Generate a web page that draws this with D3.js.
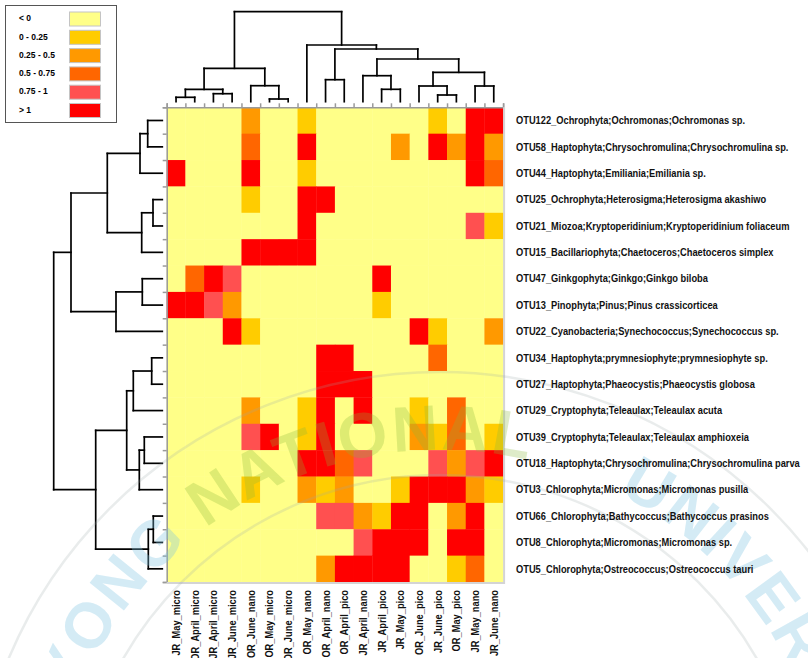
<!DOCTYPE html>
<html>
<head>
<meta charset="utf-8">
<script src="https://cdn.jsdelivr.net/npm/d3@7"></script>
<style>
  body { margin: 0; background: #fff; }
  svg { display: block; }
  text { font-family: "Liberation Sans", Arial, sans-serif; font-weight: bold; }
</style>
</head>
<body>
<div id="app"></div>
<script>
// column order as drawn (after clustering)
const samples = [
  "JR_May_micro", "OR_April_micro", "JR_April_micro", "JR_June_micro", "OR_June_nano",
  "OR_May_micro", "OR_June_micro", "OR_May_nano", "OR_April_nano", "OR_April_pico",
  "JR_April_nano", "JR_April_pico", "JR_May_pico", "OR_June_pico", "JR_June_pico",
  "OR_May_pico", "JR_May_nano", "JR_June_nano"
]

const otus = [
  "OTU122_Ochrophyta;Ochromonas;Ochromonas sp.",
  "OTU58_Haptophyta;Chrysochromulina;Chrysochromulina sp.",
  "OTU44_Haptophyta;Emiliania;Emiliania sp.",
  "OTU25_Ochrophyta;Heterosigma;Heterosigma akashiwo",
  "OTU21_Miozoa;Kryptoperidinium;Kryptoperidinium foliaceum",
  "OTU15_Bacillariophyta;Chaetoceros;Chaetoceros simplex",
  "OTU47_Ginkgophyta;Ginkgo;Ginkgo biloba",
  "OTU13_Pinophyta;Pinus;Pinus crassicorticea",
  "OTU22_Cyanobacteria;Synechococcus;Synechococcus sp.",
  "OTU34_Haptophyta;prymnesiophyte;prymnesiophyte sp.",
  "OTU27_Haptophyta;Phaeocystis;Phaeocystis globosa",
  "OTU29_Cryptophyta;Teleaulax;Teleaulax acuta",
  "OTU39_Cryptophyta;Teleaulax;Teleaulax amphioxeia",
  "OTU18_Haptophyta;Chrysochromulina;Chrysochromulina parva",
  "OTU3_Chlorophyta;Micromonas;Micromonas pusilla",
  "OTU66_Chlorophyta;Bathycoccus;Bathycoccus prasinos",
  "OTU8_Chlorophyta;Micromonas;Micromonas sp.",
  "OTU5_Chlorophyta;Ostreococcus;Ostreococcus tauri"
]

const levels = ["< 0", "0 - 0.25", "0.25 - 0.5", "0.5 - 0.75", "0.75 - 1", "> 1"]
const levelColors = ["#FFFF88", "#FFCC00", "#FF9900", "#FF6600", "#FF5050", "#FF0000"]

// level index per cell (0 = "< 0" ... 5 = "> 1"), one row per OTU, columns in sample order
const cells = [
  [0,0,0,0,2,0,0,1,0,0,0,0,0,0,1,0,5,5],
  [0,0,0,0,3,0,0,5,0,0,0,0,2,0,5,2,5,2],
  [5,0,0,0,5,0,0,1,0,0,0,0,0,0,0,0,5,3],
  [0,0,0,0,1,0,0,5,5,0,0,0,0,0,0,0,0,0],
  [0,0,0,0,0,0,0,5,0,0,0,0,0,0,0,0,4,1],
  [0,0,0,0,5,5,5,5,0,0,0,0,0,0,0,0,0,0],
  [0,3,5,4,0,0,0,0,0,0,0,5,0,0,0,0,0,0],
  [5,5,4,2,0,0,0,0,0,0,0,1,0,0,0,0,0,0],
  [0,0,0,5,1,0,0,0,0,0,0,0,0,5,1,0,0,2],
  [0,0,0,0,0,0,0,0,5,5,0,0,0,0,3,0,0,0],
  [0,0,0,0,0,0,0,0,5,5,5,0,0,0,0,0,0,0],
  [0,0,0,0,2,0,0,1,5,0,5,0,0,1,0,3,0,0],
  [0,0,0,0,4,5,0,1,5,0,0,0,0,2,1,3,0,1],
  [0,0,0,0,0,0,0,5,5,3,4,0,0,0,4,2,4,5],
  [0,0,0,0,1,0,0,2,1,2,0,0,1,5,5,5,2,1],
  [0,0,0,0,0,0,0,0,4,4,2,1,5,5,0,2,5,0],
  [0,0,0,0,0,0,0,0,0,0,4,5,5,5,0,5,5,0],
  [0,0,0,0,0,0,0,0,2,5,5,5,5,0,0,1,3,0]
]

// dendrograms: leaves are column / row indices, h = merge height
const colTree = { h: 90, children: [
  { h: 33.4, children: [
    { h: 12.4, children: [ { h: 4.4, children: [0, 1] }, { h: 8, children: [2, 3] } ] },
    { h: 16, children: [4, { h: 2.7, children: [5, 6] }] }
  ] },
  { h: 56.7, children: [7,
    { h: 52.7, children: [
      { h: 22, children: [8, 9] },
      { h: 42.7, children: [
        { h: 26, children: [10, { h: 12.4, children: [11, 12] }] },
        { h: 29.4, children: [
          { h: 15.7, children: [13, { h: 6.7, children: [14, 15] }] },
          { h: 15.7, children: [16, 17] }
        ] }
      ] }
    ] }
  ] }
] }

const rowTree = { h: 108.6, children: [
  { h: 91.3, children: [
    { h: 55, children: [
      { h: 22.3, children: [{ h: 14.6, children: [0, 1] }, 2] },
      { h: 20.6, children: [{ h: 9.3, children: [3, 4] }, 5] }
    ] },
    { h: 46.3, children: [{ h: 20, children: [6, 7] }, 8] }
  ] },
  { h: 66.6, children: [
    { h: 35.6, children: [
      { h: 29, children: [{ h: 10.6, children: [9, 10] }, 11] },
      { h: 23, children: [{ h: 18, children: [12, 13] }, 14] }
    ] },
    { h: 14, children: [{ h: 9, children: [15, 16] }, 17] }
  ] }
] }

const W = 808, H = 658
// the labels in the picture use a narrow face; squeeze the installed sans to match
const squeeze = 0.885

const svg = d3.select("#app").append("svg")
    .attr("width", W)
    .attr("height", H)

const x = d3.scaleBand().domain(d3.range(samples.length)).range([166.7, 503.1])
const y = d3.scaleBand().domain(d3.range(otus.length)).range([107.3, 582])
const color = d3.scaleOrdinal().domain(d3.range(levels.length)).range(levelColors)

// heatmap
svg.append("g")
  .selectAll("g")
  .data(cells)
  .join("g")
  .selectAll("rect")
  .data((row, i) => row.map((v, j) => ({ i, j, v })))
  .join("rect")
    .attr("x", d => x(d.j))
    .attr("y", d => y(d.i))
    .attr("width", x.bandwidth() + 0.4)
    .attr("height", y.bandwidth() + 0.4)
    .attr("fill", d => color(d.v))

// frame: gray axes on top / left, pale edges right / bottom
const xb = d3.scaleLinear().domain([0, samples.length]).range(x.range())
const yb = d3.scaleLinear().domain([0, otus.length]).range(y.range())

svg.append("g")
    .attr("transform", `translate(0,${y.range()[0]})`)
    .call(d3.axisTop(xb).tickValues(d3.range(samples.length + 1)).tickSize(4).tickFormat(""))
    .call(g => g.selectAll("line,path").attr("stroke", "#9a9a9a").attr("stroke-width", 1.5))

svg.append("g")
    .attr("transform", `translate(${x.range()[0]},0)`)
    .call(d3.axisLeft(yb).tickValues(d3.range(otus.length + 1)).tickSize(4).tickFormat(""))
    .call(g => g.selectAll("line,path").attr("stroke", "#9a9a9a").attr("stroke-width", 1.5))

svg.append("path")
    .attr("d", `M${x.range()[1] + 1},${y.range()[0]}V${y.range()[1] + 1}H${x.range()[0]}`)
    .attr("fill", "none")
    .attr("stroke", "#d4d4d4")
    .attr("stroke-width", 2)

// dendrogram helper: elbow links
function drawTree(tree, pos, hScale, vertical) {
  const root = d3.hierarchy(tree, d => typeof d === "number" ? null : d.children)
  root.eachAfter(n => {
    if (!n.children) {
      n.p = pos(n.data)
      n.hh = 0
    } else {
      n.p = d3.mean(n.children, c => c.p)
      n.hh = n.data.h
    }
  })
  const segs = []
  root.each(n => {
    if (!n.children) return
    const ps = n.children.map(c => c.p)
    n.children.forEach(c => segs.push([c.p, c.hh, c.p, n.hh]))
    segs.push([d3.min(ps), n.hh, d3.max(ps), n.hh])
  })
  const g = svg.append("g")
      .attr("stroke", "#000")
      .attr("stroke-width", 1.7)
      .attr("stroke-linecap", "square")
  g.selectAll("line")
    .data(segs)
    .join("line")
      .attr(vertical ? "x1" : "y1", d => d[0])
      .attr(vertical ? "y1" : "x1", d => hScale(d[1]))
      .attr(vertical ? "x2" : "y2", d => d[2])
      .attr(vertical ? "y2" : "x2", d => hScale(d[3]))
}

const colH = d3.scaleLinear().domain([0, 90]).range([101.7, 11.7])
const rowH = d3.scaleLinear().domain([0, 108.6]).range([162.3, 53.7])
drawTree(colTree, j => x(j) + x.bandwidth() / 2, colH, true)
drawTree(rowTree, i => y(i) + y.bandwidth() / 2, rowH, false)

// faint university seal watermark (drawn under the labels)
const wm = svg.append("g").attr("pointer-events", "none")
const cx = 440, cy = 840, r = 390
wm.append("path")
    .attr("id", "wmArc")
    .attr("fill", "none")
    .attr("d", `M${cx},${cy + r}A${r},${r} 0 1 1 ${cx},${cy - r}A${r},${r} 0 1 1 ${cx},${cy + r}`)
const off = deg => ((deg + 360 - 90) % 360) * Math.PI / 180 * r
const wmWords = [
  { t: "PUKYONG", a: -130, anchor: "end", fill: "#7cc3e0", op: 0.33 },
  { t: "NATIONAL", a: -127, anchor: "start", fill: "#8ab83a", op: 0.28 },
  { t: "UNIVERSITY", a: -63, anchor: "start", fill: "#7cc3e0", op: 0.33 }
]
wm.selectAll("text")
  .data(wmWords)
  .join("text")
    .attr("font-size", 64)
    .attr("font-family", "'DejaVu Sans', sans-serif")
    .attr("letter-spacing", 2)
    .attr("fill", d => d.fill)
    .attr("fill-opacity", d => d.op)
  .append("textPath")
    .attr("href", "#wmArc")
    .attr("startOffset", d => off(d.a))
    .attr("text-anchor", d => d.anchor)
    .text(d => d.t)
wm.selectAll("circle")
  .data([r - 25, r + 78])
  .join("circle")
    .attr("cx", cx).attr("cy", cy).attr("r", d => d)
    .attr("fill", "none")
    .attr("stroke", "#9aa")
    .attr("stroke-opacity", 0.22)
    .attr("stroke-width", 2.5)

// row labels
svg.append("g")
  .selectAll("text")
  .data(otus)
  .join("text")
    .attr("transform", (d, i) => `translate(516,${y(i) + y.bandwidth() / 2 + 1}) scale(${squeeze},1)`)
    .attr("dominant-baseline", "middle")
    .attr("font-size", 10.5)
    .attr("fill", "#111")
    .text(d => d)

// column labels
svg.append("g")
  .selectAll("text")
  .data(samples)
  .join("text")
    .attr("transform", (d, j) => `translate(${x(j) + x.bandwidth() / 2 + 4},590) rotate(-90) scale(${squeeze},1)`)
    .attr("text-anchor", "end")
    .attr("font-size", 10.5)
    .attr("fill", "#111")
    .text(d => d)

// legend
const lg = svg.append("g")
lg.append("rect")
    .attr("x", 5.5).attr("y", 5.5)
    .attr("width", 111).attr("height", 117)
    .attr("fill", "#fff")
    .attr("stroke", "#555")
const ly = d3.scalePoint().domain(d3.range(levels.length)).range([19, 110.5])
lg.selectAll("text")
  .data(levels)
  .join("text")
    .attr("x", 19)
    .attr("y", (d, i) => ly(i))
    .attr("dominant-baseline", "middle")
    .attr("font-size", 8.5)
    .attr("font-family", "'DejaVu Sans', sans-serif")
    .text(d => d)
lg.selectAll("rect.sw")
  .data(levelColors)
  .join("rect")
    .attr("class", "sw")
    .attr("x", 69.5)
    .attr("y", (d, i) => ly(i) - 7)
    .attr("width", 31)
    .attr("height", 14)
    .attr("fill", d => d)
    .attr("stroke", "#c4c4c4")
</script>
</body>
</html>
